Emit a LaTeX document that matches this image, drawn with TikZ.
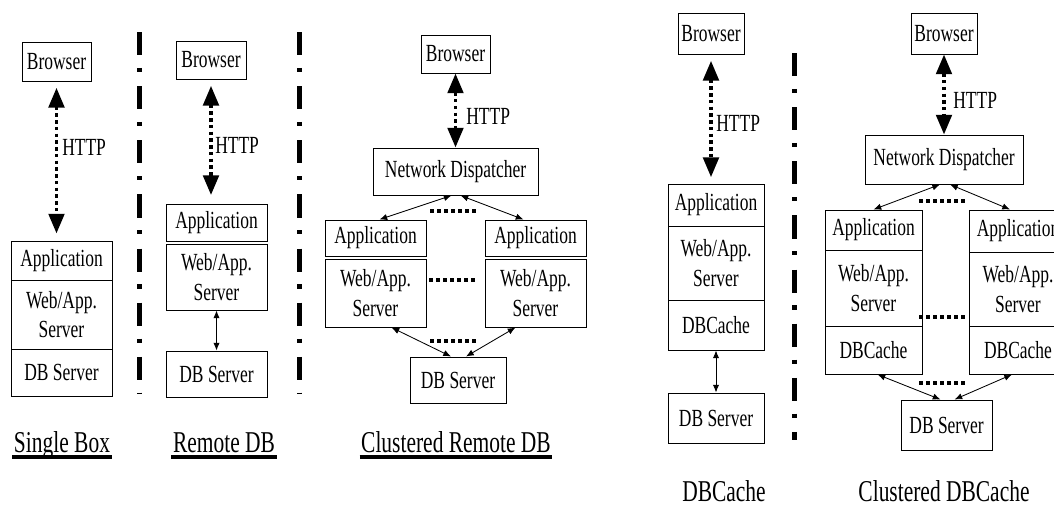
\documentclass[tikz,border=0pt]{standalone}
\usepackage{fontspec}
\setmainfont{Liberation Serif}[FakeStretch=0.71]
\usetikzlibrary{arrows.meta,calc}
\newcommand\boxfont{\fontsize{17.5}{21}\selectfont}
\newcommand\capfont{\fontsize{21.5}{25}\selectfont}

\begin{document}
\begin{tikzpicture}[x=0.025cm, y=-0.025cm,
    cell/.style={draw, line width=0.7pt, inner sep=0pt, align=center, font=\boxfont},
    sz/.style 2 args={minimum width=#1*0.025cm, minimum height=#2*0.025cm},
    lbl/.style={font=\boxfont, inner sep=0pt, anchor=west},
    http/.style={line width=2.5pt, dash pattern=on 2.4pt off 2.4pt,
      {Triangle[length=14pt,width=11pt]}-{Triangle[length=14pt,width=11pt]}},
    link/.style={line width=0.6pt, {Latex[length=5.5pt,width=4.5pt]}-{Latex[length=5.5pt,width=4.5pt]}},
    more/.style={line width=2.6pt, dash pattern=on 2.6pt off 2.4pt},
    sepline/.style={line width=3pt, dash pattern=on 16.5pt off 9pt on 3pt off 10pt},
    captext/.style={font=\capfont, inner sep=1pt, anchor=base},
    under/.style={line width=2.4pt}]
  \useasboundingbox (0,0) rectangle (1054,506);
  \clip (0,0) rectangle (1054,506);

  % single box
  \node[cell, sz={69}{39}] (sbBrowser) at (56.5,61.5) {Browser};
  \node[cell, sz={101}{39}] (sbApp) at (61.5,260.5) {Application};
  \node[cell, sz={101}{69}] (sbWeb) at (61.5,314.5) {Web/App.\\Server};
  \node[cell, sz={101}{47}] (sbDB) at (61.5,372.5) {DB Server};
  \node[lbl] (sbHttp) at (62,147) {HTTP};
  \node[captext] (sbCap) at (62,452) {Single Box};

  \draw[http, shorten <=4.5pt, shorten >=5pt] (sbBrowser.south) -- (sbBrowser.south |- sbApp.north);
  \draw[under] ($(sbCap.base west)+(0,5)$) -- ($(sbCap.base east)+(0,5)$);

  \draw[sepline] (139.5,32) -- (139.5,393);

  % remote db
  \node[cell, sz={70}{38}] (rdBrowser) at (211,60) {Browser};
  \node[cell, sz={101}{37}] (rdApp) at (216.5,222.5) {Application};
  \node[cell, sz={101}{66}] (rdWeb) at (216.5,277) {Web/App.\\Server};
  \node[cell, sz={101}{46}] (rdDB) at (216.5,374) {DB Server};
  \node[lbl] (rdHttp) at (215,145) {HTTP};
  \node[captext] (rdCap) at (224,452) {Remote DB};

  \draw[http, shorten <=4.5pt, shorten >=6pt] (rdBrowser.south) -- (rdBrowser.south |- rdApp.north);
  \draw[link] (rdWeb.south) -- (rdDB.north);
  \draw[under] ($(rdCap.base west)+(0,5)$) -- ($(rdCap.base east)+(0,5)$);

  \draw[sepline] (299.5,32) -- (299.5,393);

  % clustered remote db
  \node[cell, sz={69}{38}] (crBrowser) at (455.5,54) {Browser};
  \node[cell, sz={165}{47}] (crND) at (455.5,171.5) {Network Dispatcher};
  \node[cell, sz={101}{36}] (crAppL) at (375.5,238) {Application};
  \node[cell, sz={101}{68}] (crWebL) at (375.5,293) {Web/App.\\Server};
  \node[cell, sz={101}{36}] (crAppR) at (535.5,238) {Application};
  \node[cell, sz={101}{68}] (crWebR) at (535.5,293) {Web/App.\\Server};
  \node[cell, sz={96}{46}] (crDB) at (458,380) {DB Server};
  \node[lbl] (crHttp) at (466,116) {HTTP};
  \node[captext] (crCap) at (456,452) {Clustered Remote DB};

  \draw[http] (crBrowser.south) -- (crND.north);
  \draw[link] ($(crND.south)+(-4,0)$) -- ($(crAppL.north)+(4,0)$);
  \draw[link] ($(crND.south)+(5,0)$) -- ($(crAppR.north)+(-12,0)$);
  \draw[link] ($(crWebL.south)+(16,0)$) -- ($(crDB.north)+(-7,0)$);
  \draw[link] ($(crWebR.south)+(-20,0)$) -- ($(crDB.north)+(8,0)$);
  \draw[more] (430,211) -- (476,211);
  \draw[more] (429,280) -- (475,280);
  \draw[more] (430,341) -- (476,341);
  \draw[under] ($(crCap.base west)+(0,5)$) -- ($(crCap.base east)+(0,5)$);

  % dbcache
  \node[cell, sz={66}{41}] (dcBrowser) at (711,33.5) {Browser};
  \node[cell, sz={96}{42}] (dcApp) at (716,205) {Application};
  \node[cell, sz={96}{74}] (dcWeb) at (716,263) {Web/App.\\Server};
  \node[cell, sz={96}{50}] (dcCache) at (716,325) {DBCache};
  \node[cell, sz={96}{50}] (dcDB) at (716,418) {DB Server};
  \node[lbl] (dcHttp) at (716,123) {HTTP};
  \node[captext] (dcCap) at (724,501) {DBCache};

  \draw[http, shorten <=4.5pt, shorten >=4.5pt] (dcBrowser.south) -- (dcBrowser.south |- dcApp.north);
  \draw[link] (dcCache.south) -- (dcDB.north);

  \draw[sepline] (794.5,53) -- (794.5,440);

  % clustered dbcache
  \node[cell, sz={66}{41}] (cdBrowser) at (944,33.5) {Browser};
  \node[cell, sz={158}{49}] (cdND) at (944,159.5) {Network Dispatcher};
  \node[cell, sz={97}{40}] (cdAppL) at (873.5,230) {Application};
  \node[cell, sz={97}{76}] (cdWebL) at (873.5,288) {Web/App.\\Server};
  \node[cell, sz={97}{48}] (cdCacheL) at (873.5,350) {DBCache};
  \node[cell, sz={97}{42}] (cdAppR) at (1018,231) {Application};
  \node[cell, sz={97}{74}] (cdWebR) at (1018,289) {Web/App.\\Server};
  \node[cell, sz={97}{48}] (cdCacheR) at (1018,350) {DBCache};
  \node[cell, sz={91}{50}] (cdDB) at (946.5,425) {DB Server};
  \node[lbl] (cdHttp) at (953,100) {HTTP};
  \node[captext] (cdCap) at (944,501) {Clustered DBCache};

  \draw[http] (cdBrowser.south) -- (cdND.north);
  \draw[link] ($(cdND.south)+(-4,0)$) -- (cdAppL.north);
  \draw[link] ($(cdND.south)+(6,0)$) -- ($(cdAppR.north)+(-8,0)$);
  \draw[link] ($(cdCacheL.south)+(4,0)$) -- ($(cdDB.north)+(-6,0)$);
  \draw[link] ($(cdCacheR.south)+(-6,0)$) -- ($(cdDB.north)+(8,0)$);
  \draw[more] (919,201) -- (965,201);
  \draw[more] (919,317) -- (965,317);
  \draw[more] (919,383) -- (965,383);
\end{tikzpicture}
\end{document}
